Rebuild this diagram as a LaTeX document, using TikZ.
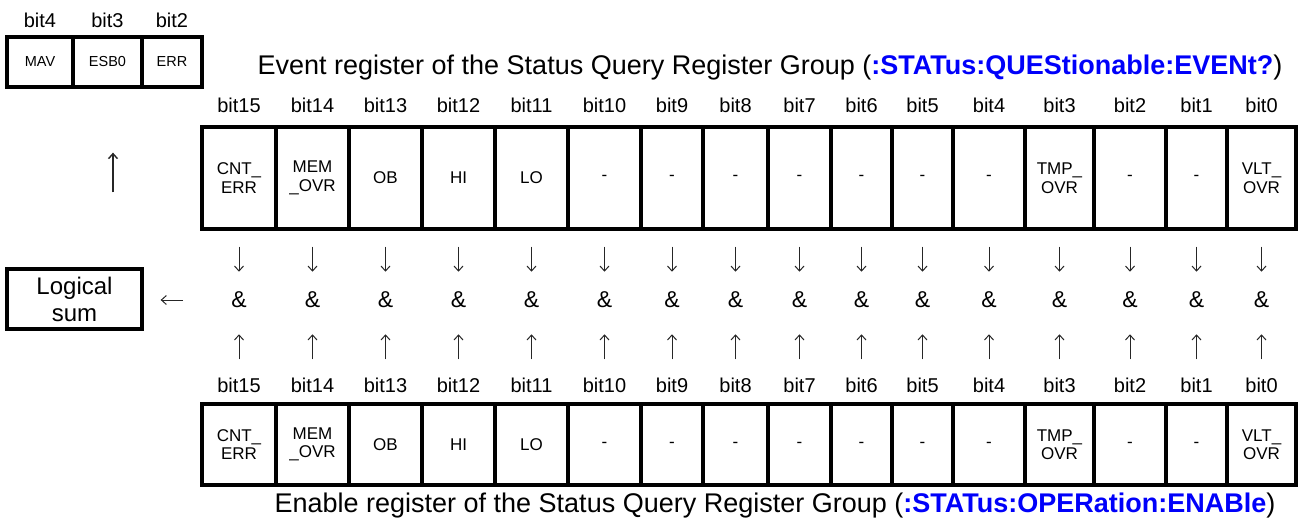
\documentclass[tikz,border=0pt]{standalone}
\usepackage{fontspec}
\setmainfont{Liberation Sans}
\usetikzlibrary{arrows.meta}

\definecolor{cmdblue}{RGB}{0,0,250}

\tikzset{
  cell/.style={draw,line width=3.3pt,inner sep=0pt,align=center,
               font=\fontsize{17}{18.5}\selectfont},
  smallcell/.style={cell,minimum height=50pt,font=\fontsize{14.5}{17}\selectfont},
  bitlabel/.style={inner sep=0pt,font=\fontsize{20}{24}\selectfont},
  andop/.style={inner sep=0pt,font=\fontsize{23}{26}\selectfont},
  title/.style={inner sep=0pt,anchor=base,font=\fontsize{27}{32}\selectfont},
  flow/.style={->,line width=1pt,draw=black!85},
}

% bit / centre / width / text
\newcommand{\bitcols}{15/239/74/{CNT\_\\ERR}, 14/312.5/73/{MEM\\\_OVR},
  13/385.5/73/OB, 12/458.5/73/HI, 11/531.5/73/LO, 10/604.5/73/-,
  9/672/62/-, 8/735.5/65/-, 7/799.5/63/-, 6/861.5/61/-, 5/922.5/61/-,
  4/989/72/-, 3/1059.5/69/{TMP\_\\OVR}, 2/1130/72/-, 1/1196.5/61/-,
  0/1261.5/69/{VLT\_\\OVR}}

\begin{document}
\begin{tikzpicture}[x=1pt,y=-1pt,>={Straight Barb[length=5pt,width=9pt]}]
  \useasboundingbox (0,0) rectangle (1300,520);

  % status byte bits
  \node[smallcell,minimum width=66pt] (mav) at (40,62)    {MAV};
  \node[smallcell,minimum width=69pt] (esb) at (107.5,62) {ESB0};
  \node[smallcell,minimum width=60pt] (err) at (172,62)   {ERR};
  \node[bitlabel] (sb4) at (40,20)    {bit4};
  \node[bitlabel] (sb3) at (107.5,20) {bit3};
  \node[bitlabel] (sb2) at (172,20)   {bit2};

  \node[title] (evtitle) at (770,74) {Event register of the Status Query Register Group
    (\textcolor{cmdblue}{\textbf{:STATus:QUEStionable:EVENt?}})};
  \node[title] (entitle) at (775,512) {Enable register of the Status Query Register Group
    (\textcolor{cmdblue}{\textbf{:STATus:OPERation:ENABle}})};

  \node[draw,line width=3.3pt,minimum width=135pt,minimum height=60pt,inner sep=0pt,
        align=center,font=\fontsize{24}{27}\selectfont] (sum) at (74.5,299) {Logical\\sum};

  % event, and, enable columns
  \foreach \b/\x/\w/\txt in \bitcols {
    \node[bitlabel] (eb\b) at (\x,105) {bit\b};
    \node[cell,minimum width=\w pt,minimum height=102pt] (e\b) at (\x,178) {\txt};
    \node[andop] (a\b) at (\x,300) {\&};
    \node[bitlabel] (nb\b) at (\x,385) {bit\b};
    \node[cell,minimum width=\w pt,minimum height=81pt] (n\b) at (\x,444.5) {\txt};
    \draw[flow,shorten <=16pt,shorten >=20pt] (e\b) -- (a\b);
    \draw[flow,shorten <=18pt,shorten >=26pt] (nb\b) -- (a\b);
  }

  \draw[flow,shorten <=48pt,shorten >=17pt] (a15.west) -- (a15.west -| sum.east);
  \draw[flow,line width=1.4pt,shorten <=75pt,shorten >=64pt]
    ([xshift=38.5pt]sum.north) -- ([xshift=5.5pt]esb.south);
\end{tikzpicture}
\end{document}
